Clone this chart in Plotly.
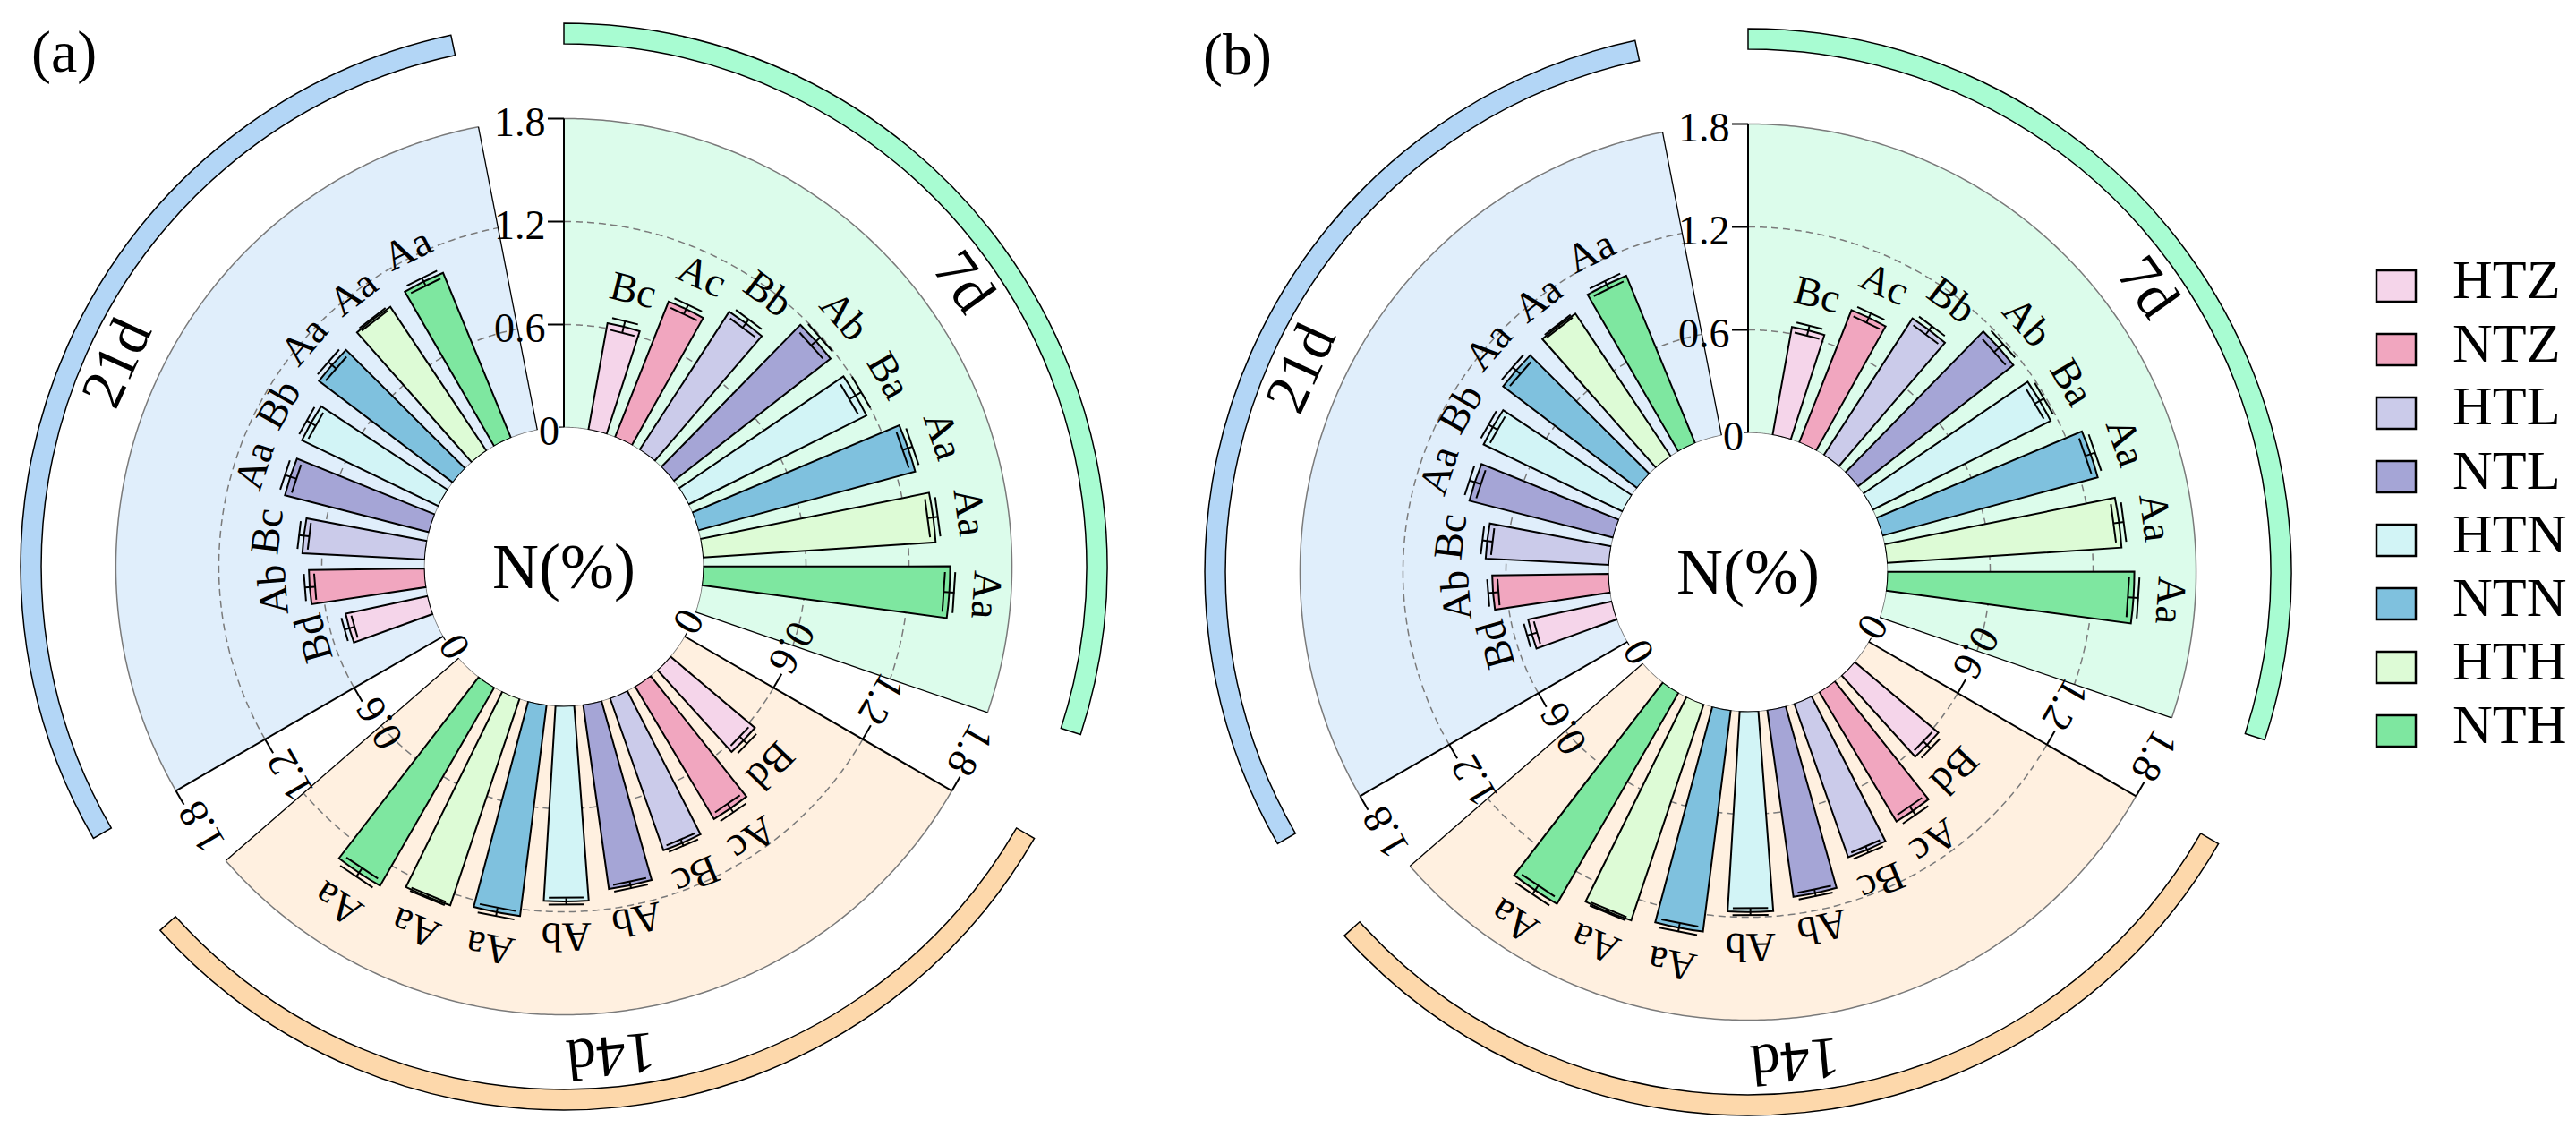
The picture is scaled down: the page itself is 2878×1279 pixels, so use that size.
import numpy as np
import plotly.graph_objects as go

# ---------------- data ----------------
treatments = ["HTZ", "NTZ", "HTL", "NTL", "HTN", "NTN", "HTH", "NTH"]
days = ["7d", "14d", "21d"]
tick_values = [0, 0.6, 1.2, 1.8]
tick_labels = ["0", "0.6", "1.2", "1.8"]
center_title = "N(%)"
panel_tags = ["(a)", "(b)"]

# panel (a)
a_7d = [0.63, 0.85, 0.96, 1.16, 1.16, 1.31, 1.36, 1.44]
a_14d = [0.645, 0.90, 0.94, 1.085, 1.14, 1.24, 1.27, 1.335]
a_21d = [0.49, 0.675, 0.715, 0.867, 0.884, 0.98, 1.01, 1.04]
a_7d_err = [0.035, 0.03, 0.03, 0.035, 0.04, 0.03, 0.03, 0.03]
a_14d_err = [0.03, 0.03, 0.02, 0.02, 0.02, 0.025, 0.01, 0.03]
a_21d_err = [0.03, 0.03, 0.03, 0.035, 0.03, 0.03, 0.01, 0.025]
a_7d_sig = ["Bc", "Ac", "Bb", "Ab", "Ba", "Aa", "Aa", "Aa"]
a_14d_sig = ["Bd", "Ac", "Bc", "Ab", "Ab", "Aa", "Aa", "Aa"]
a_21d_sig = ["Bd", "Ab", "Bc", "Aa", "Bb", "Aa", "Aa", "Aa"]

# panel (b)
b_7d = [0.64, 0.83, 0.95, 1.15, 1.16, 1.30, 1.37, 1.44]
b_14d = [0.64, 0.88, 0.95, 1.10, 1.17, 1.30, 1.33, 1.42]
b_21d = [0.50, 0.68, 0.72, 0.865, 0.90, 0.98, 1.00, 1.056]
b_7d_err = [0.03, 0.03, 0.03, 0.035, 0.03, 0.03, 0.03, 0.03]
b_14d_err = [0.03, 0.03, 0.02, 0.02, 0.02, 0.025, 0.01, 0.03]
b_21d_err = [0.03, 0.03, 0.03, 0.035, 0.03, 0.03, 0.01, 0.025]
b_7d_sig = ["Bc", "Ac", "Bb", "Ab", "Ba", "Aa", "Aa", "Aa"]
b_14d_sig = ["Bd", "Ac", "Bc", "Ab", "Ab", "Aa", "Aa", "Aa"]
b_21d_sig = ["Bd", "Ab", "Bc", "Aa", "Bb", "Aa", "Aa", "Aa"]

# ---------------- style ----------------
bar_colors = ["#F5D5EA", "#F1A6BF", "#CBCBEA", "#A5A5D6",
              "#D2F4F6", "#7FC1DE", "#DDFBD6", "#7EE7A0"]
sector_fill = ["#DCFCEB", "#FFF0E0", "#E0EEFB"]
band_fill = ["#A8FCD2", "#FDD8AB", "#B3D6F6"]
FONT = "Times New Roman, Liberation Serif, Tinos, Nimbus Roman, serif"
FS_TICK = 46
FS_SIG = 46
FS_DAY = 66
FS_CENTER = 72
FS_LEG = 62
FS_TAG = 66

W, H = 2878, 1279
PX = 191.7            # pixels per radial unit
HOLE_PX = 155.5
RMAX = 2.4
R0 = HOLE_PX / PX
ROUT = HOLE_PX + RMAX * PX
centers = [(630, 633), (1953, 639)]
SECTOR = 120.0
SPAN = 109.0
BAND_SPAN = 108.0
FIRST = 14.0
STEP = 11.4
BARW = 7.7
CAP = 3.0
BAND_BASE = 2.235
BAND_LEN = 0.12
GRID_MAX = 1.8
DAY_R = 550 / PX
SIG_GAP = 0.19

panels = [
    dict(vals=[a_7d, a_14d, a_21d], errs=[a_7d_err, a_14d_err, a_21d_err],
         sigs=[a_7d_sig, a_14d_sig, a_21d_sig]),
    dict(vals=[b_7d, b_14d, b_21d], errs=[b_7d_err, b_14d_err, b_21d_err],
         sigs=[b_7d_sig, b_14d_sig, b_21d_sig]),
]

fig = go.Figure()
annotations = []
shapes = []


def tangle(theta):
    t = theta % 360
    return t - 360 if t > 180 else t


def unit(theta):
    t = np.radians(theta)
    return np.sin(t), np.cos(t)


def left(theta):
    t = np.radians(theta)
    return -np.cos(t), np.sin(t)


layout_extra = {}
for p, pan in enumerate(panels):
    cx, cy = centers[p]
    xd = [(cx - ROUT) / W, (cx + ROUT) / W]
    yd = [(H - cy - ROUT) / H, (H - cy + ROUT) / H]
    bgname = "polar" if p == 0 else "polar3"
    fgname = "polar2" if p == 0 else "polar4"
    for key in (bgname, fgname):
        layout_extra[key] = dict(
            domain=dict(x=xd, y=yd), hole=HOLE_PX / ROUT, bgcolor="rgba(0,0,0,0)",
            angularaxis=dict(rotation=90, direction="clockwise", showline=False,
                             showgrid=False, showticklabels=False, ticks=""),
            radialaxis=dict(range=[0, RMAX], showline=False, showgrid=False,
                            showticklabels=False, ticks=""),
        )
    xa = "x" if p == 0 else "x2"
    ya = "y" if p == 0 else "y2"
    xk = "xaxis" if p == 0 else "xaxis2"
    yk = "yaxis" if p == 0 else "yaxis2"
    D = RMAX + R0
    layout_extra[xk] = dict(domain=xd, range=[-D, D], visible=False, fixedrange=True)
    layout_extra[yk] = dict(domain=yd, range=[-D, D], visible=False, fixedrange=True)
    fig.add_trace(go.Scatter(x=[0], y=[0], xaxis=xa, yaxis=ya, mode="markers",
                             marker=dict(opacity=0), hoverinfo="skip", showlegend=False))

    starts = [g * SECTOR for g in range(3)]

    # sector backgrounds
    fig.add_trace(go.Barpolar(
        r=[GRID_MAX] * 3, base=[0] * 3, theta=[s + SPAN / 2 for s in starts],
        width=[SPAN] * 3, marker=dict(color=sector_fill, line=dict(width=0)),
        subplot=bgname, showlegend=False, hoverinfo="skip"))
    # outer bands
    fig.add_trace(go.Barpolar(
        r=[BAND_LEN] * 3, base=[BAND_BASE] * 3, theta=[s + BAND_SPAN / 2 for s in starts],
        width=[BAND_SPAN] * 3, marker=dict(color=band_fill, line=dict(color="black", width=1.5)),
        subplot=bgname, showlegend=False, hoverinfo="skip"))

    # grid arcs
    for gv, dash in [(0.6, "8px,5px"), (1.2, "8px,5px"), (0, "solid"), (1.8, "solid")]:
        rr, tt = [], []
        for s in starts:
            th = np.linspace(s, s + SPAN, 240)
            rr += [gv] * len(th) + [None]
            tt += list(th) + [None]
        fig.add_trace(go.Scatterpolar(
            r=rr, theta=tt, mode="lines", line=dict(color="#7a7a7a", width=1.5, dash=dash),
            subplot=bgname, showlegend=False, hoverinfo="skip"))
    # sector end edges
    rr, tt = [], []
    for s in starts:
        rr += [0, GRID_MAX, None]
        tt += [s + SPAN, s + SPAN, None]
    fig.add_trace(go.Scatterpolar(r=rr, theta=tt, mode="lines",
                                  line=dict(color="black", width=1.3),
                                  subplot=bgname, showlegend=False, hoverinfo="skip"))

    # bars
    for k, name in enumerate(treatments):
        fig.add_trace(go.Barpolar(
            r=[pan["vals"][g][k] for g in range(3)],
            theta=[starts[g] + FIRST + k * STEP for g in range(3)],
            width=[BARW] * 3, name=name,
            marker=dict(color=bar_colors[k], line=dict(color="black", width=2)),
            subplot=fgname, showlegend=False, hoverinfo="skip"))

    # error bars
    rr, tt = [], []
    for g in range(3):
        for k in range(8):
            v = pan["vals"][g][k]
            e = pan["errs"][g][k]
            th = starts[g] + FIRST + k * STEP
            lo, hi = v - e, v + e
            rr += [lo, hi, None, lo, lo, None, hi, hi, None]
            tt += [th, th, None, th - CAP, th + CAP, None, th - CAP, th + CAP, None]
    fig.add_trace(go.Scatterpolar(r=rr, theta=tt, mode="lines",
                                  line=dict(color="black", width=2),
                                  subplot=fgname, showlegend=False, hoverinfo="skip"))

    # axes + ticks
    rr, tt = [], []
    for s in starts:
        rr += [0, GRID_MAX, None]
        tt += [s, s, None]
        for i, v in enumerate(tick_values):
            L = (5 if v == 0 else 18) / PX
            Dd = v + R0
            rr += [v, np.hypot(Dd, L) - R0, None]
            tt += [s, s - np.degrees(np.arctan2(L, Dd)), None]
    fig.add_trace(go.Scatterpolar(r=rr, theta=tt, mode="lines",
                                  line=dict(color="black", width=2),
                                  subplot=fgname, showlegend=False, hoverinfo="skip"))

    # tick labels
    for s in starts:
        ux, uy = unit(s)
        lx, ly = left(s)
        for v, lab in zip(tick_values, tick_labels):
            wpx = FS_TICK * (0.5 * sum(c.isdigit() for c in lab) + 0.25 * lab.count("."))
            gap = 5 if v == 0 else 20
            d = (wpx / 2 + gap) / PX
            Dd = v + R0 - 4 / PX
            annotations.append(dict(
                x=Dd * ux + d * lx, y=Dd * uy + d * ly, xref=xa, yref=ya,
                text=lab, showarrow=False, textangle=tangle(s),
                xanchor="center", yanchor="middle",
                font=dict(family=FONT, size=FS_TICK, color="black")))

    # significance letters
    for g in range(3):
        for k in range(8):
            v = pan["vals"][g][k]
            e = pan["errs"][g][k]
            th = starts[g] + FIRST + k * STEP
            Dd = v + e + SIG_GAP + R0
            ux, uy = unit(th)
            annotations.append(dict(
                x=Dd * ux, y=Dd * uy, xref=xa, yref=ya, text=pan["sigs"][g][k],
                showarrow=False, textangle=tangle(th), xanchor="center", yanchor="middle",
                font=dict(family=FONT, size=FS_SIG, color="black")))

    # day labels
    for g, s in enumerate(starts):
        th = s + SPAN / 2
        ux, uy = unit(th)
        annotations.append(dict(
            x=DAY_R * ux, y=DAY_R * uy, xref=xa, yref=ya, text=days[g],
            showarrow=False, textangle=tangle(th), xanchor="center", yanchor="middle",
            font=dict(family=FONT, size=FS_DAY, color="black")))

    # center title
    annotations.append(dict(x=0, y=0, xref=xa, yref=ya, text=center_title, showarrow=False,
                            xanchor="center", yanchor="middle",
                            font=dict(family=FONT, size=FS_CENTER, color="black")))

# panel tags
for (tx, ty), tag in zip([(71, 58), (1382, 61)], panel_tags):
    annotations.append(dict(x=tx / W, y=1 - ty / H, xref="paper", yref="paper", text=tag,
                            showarrow=False, xanchor="center", yanchor="middle",
                            font=dict(family=FONT, size=FS_TAG, color="black")))

# legend
for k, name in enumerate(treatments):
    yc = 319.5 + 71 * k
    shapes.append(dict(type="rect", xref="paper", yref="paper",
                       x0=2655 / W, x1=2699 / W, y0=1 - (yc - 17.5) / H, y1=1 - (yc + 17.5) / H,
                       fillcolor=bar_colors[k], line=dict(color="black", width=2.5)))
    annotations.append(dict(x=2738 / W, y=1 - (yc - 8) / H, xref="paper", yref="paper",
                            text=name, showarrow=False, xanchor="left", yanchor="middle",
                            font=dict(family=FONT, size=FS_LEG, color="black")))

fig.update_layout(
    width=W, height=H, margin=dict(l=0, r=0, t=0, b=0),
    paper_bgcolor="white", plot_bgcolor="rgba(0,0,0,0)",
    font=dict(family=FONT),
    showlegend=False, annotations=annotations, shapes=shapes,
    **layout_extra)

fig.write_html("out.html", config={"displayModeBar": False},
               post_script="document.body.style.margin='0';document.body.style.overflow='hidden';")
